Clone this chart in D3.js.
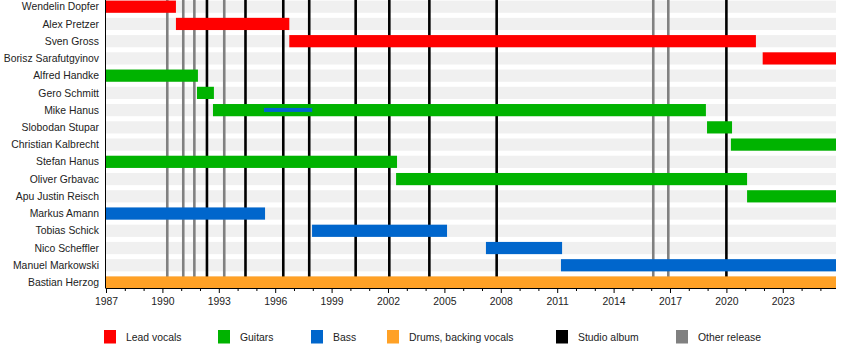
<!DOCTYPE html>
<html><head><meta charset="utf-8">
<script src="https://cdn.jsdelivr.net/npm/d3@7"></script>
<style>
html,body{margin:0;padding:0;background:#fff;}
svg{display:block;font-family:"Liberation Sans",Arial,sans-serif;}
</style></head>
<body><svg id="chart" width="850" height="348"></svg>
<script>
const members = ["Wendelin Dopfer","Alex Pretzer","Sven Gross","Borisz Sarafutgyinov","Alfred Handke","Gero Schmitt","Mike Hanus","Slobodan Stupar","Christian Kalbrecht","Stefan Hanus","Oliver Grbavac","Apu Justin Reisch","Markus Amann","Tobias Schick","Nico Scheffler","Manuel Markowski","Bastian Herzog"];
const roles = ["Lead vocals","Lead vocals","Lead vocals","Lead vocals","Guitars","Guitars","Guitars","Guitars","Guitars","Guitars","Guitars","Guitars","Bass","Bass","Bass","Bass","Drums, backing vocals"];
const starts = [1987.0,1990.72,1996.75,2021.93,1987.0,1991.84,1992.69,2018.97,2020.24,1987.0,2002.43,2021.1,1987.0,1997.96,2007.21,2011.2,1987.0];
const ends = [1990.72,1996.75,2021.57,2025.83,1991.89,1992.74,2018.91,2020.3,2025.83,2002.48,2021.1,2025.83,1995.46,2005.14,2011.26,2025.83,2025.83];
// secondary (thin) role bars
const extraMembers = ["Mike Hanus"];
const extraRoles = ["Bass"];
const extraStarts = [1995.4];
const extraEnds = [1997.97];
const studioAlbums = [1992.37,1994.42,1996.43,1997.81,2000.28,2002.07,2004.2,2007.78,2020.0];
const otherReleases = [1990.26,1991.11,1991.7,1993.29,2016.11,2016.91];
const legendLabels = ["Lead vocals","Guitars","Bass","Drums, backing vocals","Studio album","Other release"];
const tickYears = d3.range(1987, 2026);
const labelYears = d3.range(1987, 2026, 3);

const colors = {"Lead vocals":"#ff0000","Guitars":"#00b300","Bass":"#0066cc","Drums, backing vocals":"#ffa126","Studio album":"#000000","Other release":"#808080"};

const svg = d3.select("#chart");
const x = d3.scaleLinear().domain([1987, 2025.83]).range([106, 836]);
const y = d3.scalePoint().domain(members).range([6.7, 282.5]);
const barH = 12.2;
const fs = 10.4;

// stripes
svg.append("g").selectAll("rect").data(members).join("rect")
  .attr("x", x(1987)).attr("width", x(2025.83) - x(1987))
  .attr("y", d => y(d) - barH/2).attr("height", barH)
  .attr("fill", "#f0f0f0");

// event lines
const lineBottom = 288;
svg.append("g").selectAll("line").data(otherReleases).join("line")
  .attr("x1", d => x(d)).attr("x2", d => x(d))
  .attr("y1", 0).attr("y2", lineBottom)
  .attr("stroke", colors["Other release"]).attr("stroke-width", 2.6);
svg.append("g").selectAll("line").data(studioAlbums).join("line")
  .attr("x1", d => x(d)).attr("x2", d => x(d))
  .attr("y1", 0).attr("y2", lineBottom)
  .attr("stroke", colors["Studio album"]).attr("stroke-width", 2.6);

// bars
svg.append("g").selectAll("rect").data(members.map((m,i)=>i)).join("rect")
  .attr("x", i => x(starts[i])).attr("width", i => x(ends[i]) - x(starts[i]))
  .attr("y", i => y(members[i]) - barH/2).attr("height", barH)
  .attr("fill", i => colors[roles[i]]);
svg.append("g").selectAll("rect").data(extraMembers.map((m,i)=>i)).join("rect")
  .attr("x", i => x(extraStarts[i])).attr("width", i => x(extraEnds[i]) - x(extraStarts[i]))
  .attr("y", i => y(extraMembers[i]) - 2.2).attr("height", 4)
  .attr("fill", i => colors[extraRoles[i]]);

// names
svg.append("g").selectAll("text").data(members).join("text")
  .attr("x", 99).attr("y", d => y(d)).attr("dy", "0.35em")
  .attr("text-anchor", "end").attr("font-size", fs).attr("fill", "#222")
  .text(d => d);

// y axis line
svg.append("line").attr("x1",105.5).attr("x2",105.5).attr("y1",0).attr("y2",288.5)
  .attr("stroke","#000").attr("stroke-width",1);

// x axis
const ax = svg.append("g").attr("transform", "translate(0,288)")
  .call(d3.axisBottom(x).tickValues(tickYears).tickSize(3)
    .tickFormat(d => labelYears.includes(d) ? String(d) : ""));
ax.select(".domain").attr("d", `M${x(1987)},0.5H${x(2025.83)}`).attr("stroke","#000");
ax.selectAll(".tick line").attr("y2", d => labelYears.includes(d) ? 5 : 3);
ax.selectAll(".tick text").attr("font-size", fs).attr("fill", "#222")
  .attr("font-family", '"Liberation Sans",Arial,sans-serif').attr("y", 10);

// legend
const legendX = [104, 218, 311, 387, 556, 676];
const lg = svg.append("g").selectAll("g").data(legendLabels).join("g")
  .attr("transform", (d,i) => `translate(${legendX[i]},330)`);
lg.append("rect").attr("width", 12).attr("height", 13.5).attr("fill", d => colors[d]);
lg.append("text").attr("x", 22).attr("y", 7.5).attr("dy","0.35em")
  .attr("font-size", fs).attr("fill","#222").text(d => d);
</script></body></html>
